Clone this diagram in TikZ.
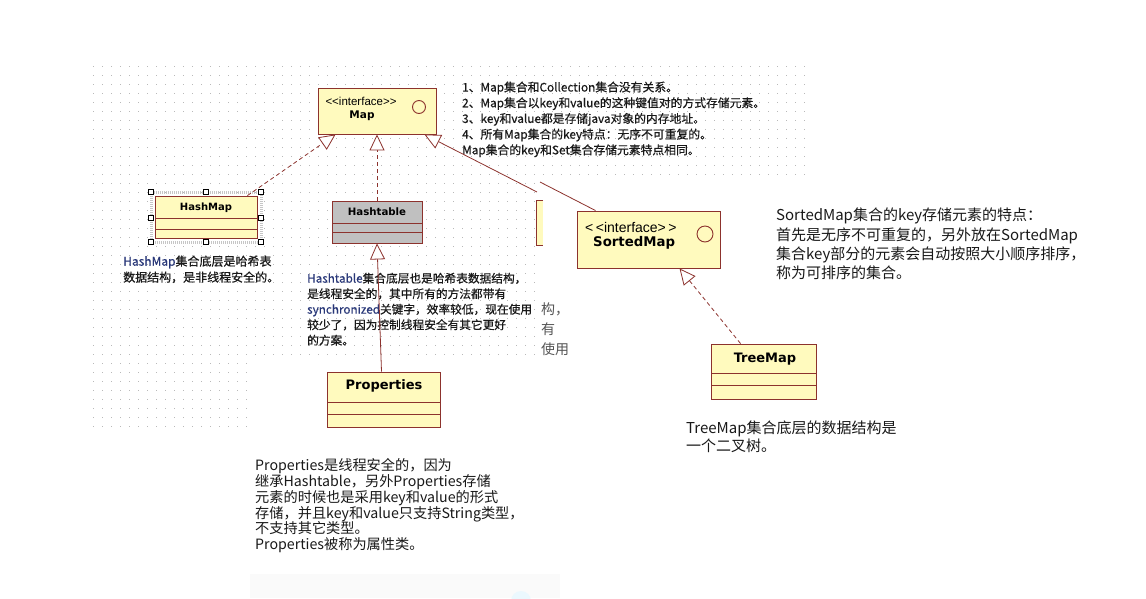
\documentclass[tikz,border=0pt]{standalone}
\usepackage{fontspec}
\newfontfamily\cjk{Noto Sans CJK SC}
\newfontfamily\cjkb{Noto Sans CJK SC}[FakeBold=0.5]
\newfontfamily\dvs{DejaVu Sans}
\newfontfamily\lis{Liberation Sans}
\usetikzlibrary{arrows.meta,calc}
\definecolor{umlfill}{RGB}{255,250,190}
\definecolor{umledge}{RGB}{140,50,45}
\definecolor{umlgray}{RGB}{192,192,192}
\definecolor{dotc}{RGB}{185,185,185}
\definecolor{bluetxt}{RGB}{40,55,120}
\definecolor{txt}{RGB}{25,25,25}
\definecolor{ghosttxt}{RGB}{85,85,85}
\begin{document}
\begin{tikzpicture}[x=1pt,y=-1pt,
  classbox/.style={draw=umledge, line width=0.9pt, fill=umlfill, inner sep=0pt, rectangle},
  graybox/.style={classbox, fill=umlgray},
  sepline/.style={draw=umledge, line width=0.9pt},
  griddot/.style={draw=dotc, line width=1pt, dash pattern=on 1pt off 8pt},
  inherit/.style={draw=umledge, line width=0.8pt, -{Triangle[length=16pt,width=15pt,fill=white]}},
  realize/.style={inherit, dash pattern=on 4pt off 3pt},
  note/.style={anchor=north west, inner sep=0pt, align=left, text=txt},
  cname/.style={inner sep=0pt, text=black, font=\dvs\bfseries},
  lollipop/.style={draw=umledge, circle, inner sep=0pt, line width=0.9pt},
  handle/.style={draw=black, fill=white, line width=0.6pt}]
\useasboundingbox (0,0) rectangle (1146,598);
\fill[white] (0,0) rectangle (1146,598);

% dotted grid of the modelling canvas
\foreach \yy in {66,75,...,174} \draw[griddot] (93,\yy) -- (806,\yy);
\foreach \yy in {183,192,...,354} \draw[griddot] (93,\yy) -- (538,\yy);
\foreach \yy in {363,372,...,428} \draw[griddot] (93,\yy) -- (251,\yy);

% faint strip at the bottom
\fill[gray!4] (250,574) rectangle (560,598);
\fill[cyan!8] (521,601) circle (10);

% Map
\node[classbox, minimum width=118pt, minimum height=46pt] (map) at (377,111) {};
\node[inner sep=0pt, font=\lis\fontsize{11.5}{13}\selectfont] (mapst) at (361,101) {<\kern0pt<interface>\kern0pt>};
\node[cname, font=\dvs\bfseries\fontsize{10.5}{12}\selectfont] (mapname) at (362,116) {Map};
\node[lollipop, minimum size=13pt] (mapc) at (419,107) {};

% notes on Map
\node[note, font=\cjkb\fontsize{11.8}{15.7}\selectfont] (mapnote) at (462,81.4) {1、Map集合和Collection集合没有关系。\\
2、Map集合以key和value的这种键值对的方式存储元素。\\
3、key和value都是存储java对象的内存地址。\\
4、所有Map集合的key特点：无序不可重复的。\\
Map集合的key和Set集合存储元素特点相同。};

% HashMap (selected)
\draw[gray!45, line width=3pt, dash pattern=on 1pt off 1pt] (151,192) rectangle (261,242);
\node[classbox, minimum width=102pt, minimum height=42pt] (hashmap) at (206,217) {};
\draw[sepline] (155,218) -- (257,218);
\draw[sepline] (155,229) -- (257,229);
\node[cname, font=\dvs\bfseries\fontsize{10}{12}\selectfont] (hashmapname) at (206,208) {HashMap};
\foreach \hx/\hy in {151/192,206/192,261/192,151/218,261/218,151/242,206/242,261/242}
  \draw[handle] (\hx-2.5,\hy-2.5) rectangle (\hx+2.5,\hy+2.5);
\node[note, font=\cjkb\fontsize{12}{16}\selectfont] (hashmapnote) at (123,255.4) {\textcolor{bluetxt}{HashMap}集合底层是哈希表\\
数据结构，是非线程安全的。};

% Hashtable
\node[graybox, minimum width=90pt, minimum height=42pt] (htable) at (377,222) {};
\draw[sepline] (332,223) -- (422,223);
\draw[sepline] (332,232) -- (422,232);
\node[cname, font=\dvs\bfseries\fontsize{10.2}{12}\selectfont] (htablename) at (377,212) {Hashtable};

% remnants of an overlapped note
\node[note, text=ghosttxt, font=\cjk\fontsize{14}{20}\selectfont] (ghostnote) at (541,303) {构，\\有\\使用};

\node[note, font=\cjkb\fontsize{11.7}{15.5}\selectfont] (htablenote) at (307,272.6) {\textcolor{bluetxt}{Hashtable}集合底层也是哈希表数据结构，\\
是线程安全的，其中所有的方法都带有\\
\textcolor{bluetxt}{synchronized}关键字，效率较低，现在使用\\
较少了，因为控制线程安全有其它更好\\
的方案。};

% clipped box sliver
\fill[umlfill] (536,200) rectangle (543,245);
\draw[umledge, line width=0.9pt] (543,200) -- (536,200) -- (536,245) -- (543,245);
\coordinate (ghostpt) at (537,192);
\coordinate (ovl) at (540,182);

% SortedMap
\node[classbox, minimum width=143pt, minimum height=57pt] (smap) at (648.5,239.5) {};
\node[anchor=west, inner sep=0pt, font=\lis\fontsize{14}{16}\selectfont] (smapst) at (585,227) {<\kern2.5pt<interface>\kern2.5pt>};
\node[cname, anchor=west, font=\dvs\bfseries\fontsize{13.3}{15}\selectfont] (smapname) at (593,243) {SortedMap};
\node[lollipop, minimum size=16pt] (smapc) at (705,234) {};
\node[note, font=\cjk\fontsize{15}{19.3}\selectfont] (smapnote) at (776,208) {SortedMap集合的key存储元素的特点：\\
首先是无序不可重复的，另外放在SortedMap\\
集合key部分的元素会自动按照大小顺序排序，\\
称为可排序的集合。};

% TreeMap
\node[classbox, minimum width=105pt, minimum height=55pt] (treemap) at (763.5,371.5) {};
\draw[sepline] (711,373) -- (816,373);
\draw[sepline] (711,385) -- (816,385);
\node[cname, font=\dvs\bfseries\fontsize{13}{15}\selectfont] (treemapname) at (765,359) {TreeMap};
\node[note, font=\cjk\fontsize{15}{17.5}\selectfont] (treemapnote) at (686,421) {TreeMap集合底层的数据结构是\\
一个二叉树。};

% Properties
\node[classbox, minimum width=113pt, minimum height=55pt] (props) at (383.5,399.5) {};
\draw[sepline] (327,402) -- (440,402);
\draw[sepline] (327,414) -- (440,414);
\node[cname, font=\dvs\bfseries\fontsize{13}{15}\selectfont] (propsname) at (384,386) {Properties};
\node[note, font=\cjk\fontsize{14.2}{15.8}\selectfont] (propsnote) at (255,458.4) {Properties是线程安全的，因为\\
继承Hashtable，另外Properties存储\\
元素的时候也是采用key和value的形式\\
存储，并且key和value只支持String类型，\\
不支持其它类型。\\
Properties被称为属性类。};

% connectors
\draw[realize] ($(hashmap.north east)+(-10,0)$) -- ($(map.south west)+(18,0)$);
\draw[realize] (htable.north) -- (map.south);
\draw[inherit] (ghostpt) -- ($(map.south east)+(-12,0)$);
\draw[umledge, line width=0.8pt] (ovl) -- ($(smap.north west)+(19,0)$);
\draw[realize] ($(treemap.north west)+(30,0)$) -- ($(smap.south west)+(103,0)$);
\draw[inherit] ($(props.north)+(-2,0)$) -- (htable.south);
\end{tikzpicture}
\end{document}
